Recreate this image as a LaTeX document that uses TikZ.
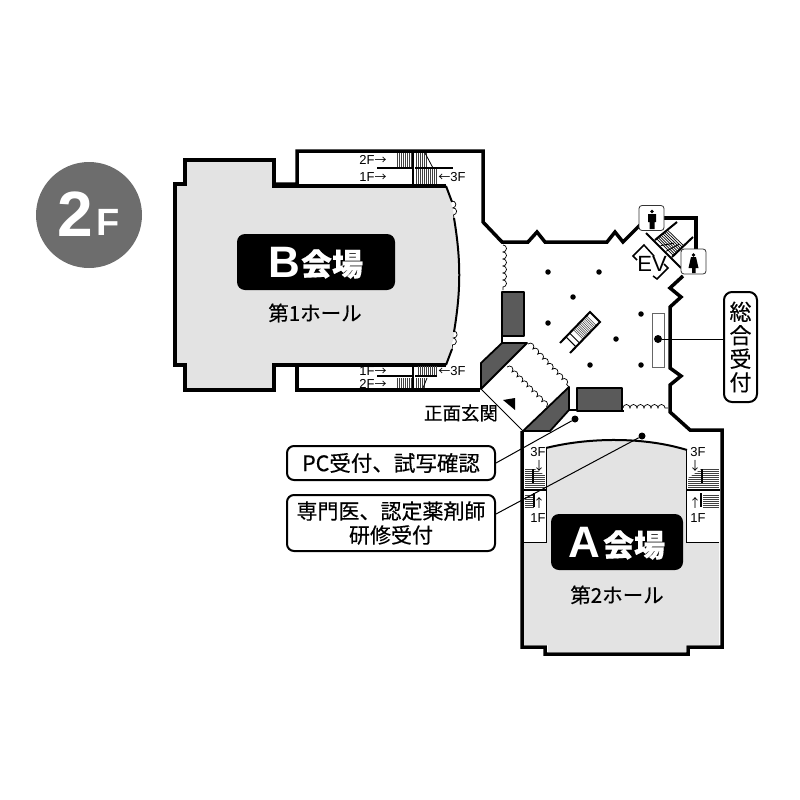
\documentclass[tikz,border=0pt]{standalone}
\usepackage{fontspec}
\setmainfont{Noto Sans CJK JP}[FakeBold=0.35]
\newfontfamily\arrowfont{Noto Sans CJK JP}
\newfontfamily\latinfont{Liberation Sans}
\usetikzlibrary{
  calc,
  decorations.pathmorphing
}
\definecolor{hallgray}{HTML}{E3E3E3}
\definecolor{darkroom}{HTML}{5A5A5A}
\definecolor{badgegray}{HTML}{6D6D6D}
\tikzset{
  wall/.style={line width=3.5pt,line join=miter},
  inner/.style={line width=2pt},
  hatch/.style={line width=0.5pt,black!75},
  darkbox/.style={draw,fill=darkroom,line width=1.8pt,line join=round},
  curtain/.style={line width=0.7pt,decorate,decoration={bumps,segment length=14pt,amplitude=3.5pt}},
  column/.style={circle,fill=black,inner sep=0pt,minimum size=5.5pt},
  bigdot/.style={circle,fill=black,inner sep=0pt,minimum size=8pt},
  callout/.style={draw,rounded corners=7pt,line width=2pt,fill=white,inner sep=0pt,align=center,font=\fontsize{21}{24}\selectfont},
  hallname/.style={fill=black,rounded corners=8pt,text=white,inner sep=0pt},
  stairtext/.style={inner sep=0pt,font=\latinfont\fontsize{13}{13}\selectfont},
  halltext/.style={inner sep=0pt,font=\fontsize{20.5}{22}\selectfont},
  signbox/.style={draw=black!80,rounded corners=3pt,fill=white,line width=0.8pt,minimum size=25pt,inner sep=0pt}
}
\newcommand{\arrowtxt}[1]{{\arrowfont\fontsize{12}{12}\selectfont #1}}
\begin{document}
\begin{tikzpicture}[x=1pt,y=-1pt]
  \useasboundingbox (0,0) rectangle (800,800);
  % floor badge
  \node[circle,fill=badgegray,minimum size=106pt,inner sep=0pt] (FloorBadge) at (89,215) {};
  \node[text=white,inner sep=0pt,font=\latinfont\bfseries\fontsize{64}{64}\selectfont] (FloorNum) at (75,214) {2};
  \node[text=white,inner sep=0pt,font=\latinfont\bfseries\fontsize{38}{38}\selectfont] (FloorF) at (108,222) {F};
  % hall B
  \fill[hallgray] (446,186) -- (274,186) -- (274,160) -- (185,160) -- (185,184) -- (175,184)
    -- (175,365) -- (185,365) -- (185,390) -- (274,390) -- (274,365) -- (446,365)
    -- (453,340) .. controls (461,290) and (461,260) .. (453,210) -- cycle;
  \draw[wall] (446,186) -- (274,186) -- (274,160) -- (185,160) -- (185,184) -- (175,184)
    -- (175,365) -- (185,365) -- (185,390) -- (274,390) -- (274,365) -- (446,365);
  \draw[inner] (446,186) -- (452,202);
  \draw[inner] (446,365) -- (452,349);
  \draw[inner] (454,218) .. controls (461,260) and (461,290) .. (454,332);
  \draw[curtain] (452,201) -- (454,219);
  \draw[curtain] (454,331) -- (452,350);
  % rooms beside hall B
  \draw[wall] (274,184) -- (297,184) -- (297,151) -- (483,151) -- (483,222) -- (502,242)
    -- (528,242) -- (537,232) -- (545,242) -- (607,242) -- (615,232) -- (623,242) -- (640,225);
  \draw[wall] (664,218) -- (696,218) -- (696,250);
  \draw[wall] (274,365) -- (297,365) -- (297,390) -- (480,390);
  \draw[wall] (683,276) -- (670,288) -- (681,297) -- (670,307) -- (670,368) -- (681,376)
    -- (670,385) -- (670,412) -- (690,430) -- (722,430) -- (722,647) -- (688,647) -- (688,654)
    -- (545,654) -- (545,647) -- (522,647) -- (522,431);
  % stairs of hall B
  \foreach \x in {397,399,...,411} \draw[hatch] (\x,153) -- (\x,168);
  \foreach \x in {416,418,...,436} \draw[hatch] (\x,169) -- (\x,184);
  \foreach \x in {416,418,...,426} \draw[hatch] (\x,153) -- (\x,168);
  \draw[line width=0.8pt] (425,153) -- (433,168);
  \draw[inner] (377,168) -- (412,168);
  \draw[inner] (415,168) -- (453,168);
  \draw[inner] (413,151) -- (413,185);
  \foreach \x in {397,399,...,411} \draw[hatch] (\x,378) -- (\x,388);
  \foreach \x in {418,420,...,436} \draw[hatch] (\x,366) -- (\x,376);
  \foreach \x in {416,418,...,424} \draw[hatch] (\x,378) -- (\x,388);
  \draw[line width=0.8pt] (427,378) -- (423,388);
  \draw[inner] (377,376) -- (412,376);
  \draw[inner] (415,376) -- (437,376);
  \draw[inner] (413,365) -- (413,390);
  \node[stairtext] (UpTwo) at (373,160) {2F\arrowtxt{→}};
  \node[stairtext] (UpOne) at (373,177) {1F\arrowtxt{→}};
  \node[stairtext] (UpThree) at (452,177) {\arrowtxt{←}3F};
  \node[stairtext] (LowOne) at (373,371) {1F\arrowtxt{→}};
  \node[stairtext] (LowTwo) at (373,384) {2F\arrowtxt{→}};
  \node[stairtext] (LowThree) at (452,371) {\arrowtxt{←}3F};
  % hall B names
  \node[hallname,minimum width=158pt,minimum height=56pt] (HallB) at (316,262) {};
  \node[inner sep=0pt,text=white,font=\latinfont\bfseries\fontsize{44}{44}\selectfont] (HallBLetter) at (284,262) {B};
  \node[inner sep=0pt,text=white,font=\bfseries\fontsize{31}{31}\selectfont] (HallBWord) at (332,264) {会場};
  \node[halltext] (HallBSub) at (315,313) {第1ホール};
  % hall A
  \fill[hallgray] (546,448) .. controls (590,437) and (645,437) .. (686,450) -- (686,542)
    -- (719,542) -- (719,645) -- (686,645) -- (686,652) -- (548,652) -- (548,645)
    -- (524,645) -- (524,542) -- (546,542) -- cycle;
  \draw[line width=0.8pt] (524,542) -- (546,542) -- (546,448);
  \draw[line width=0.8pt] (719,542) -- (686,542) -- (686,450);
  \draw[inner] (546,448) .. controls (590,437) and (645,437) .. (687,450);
  % stairs of hall A
  \foreach \y in {469,471,...,487} \draw[hatch] (525,\y) -- (545,\y);
  \foreach \y in {495,497,...,507} \draw[hatch] (525,\y) -- (534,\y);
  \foreach \y in {469,471,...,487} \draw[hatch] (688,\y) -- (719,\y);
  \foreach \y in {495,497,...,507} \draw[hatch] (703,\y) -- (719,\y);
  \fill[white] (535,469) -- (545,469) -- (545,475) -- cycle;
  \fill[white] (701,469) -- (688,469) -- (688,478) -- cycle;
  \draw[inner] (533,469) -- (533,483);
  \draw[inner] (534,493) -- (534,507);
  \draw[inner] (702,469) -- (702,483);
  \draw[inner] (701,493) -- (701,507);
  \draw[inner] (524,490) -- (546,490);
  \draw[inner] (686,490) -- (720,490);
  \node[stairtext] (LeftThree) at (538,452) {3F};
  \node[stairtext] (LeftDown) at (539,466) {\arrowtxt{↓}};
  \node[stairtext] (LeftUp) at (539,503) {\arrowtxt{↑}};
  \node[stairtext] (LeftOne) at (538,518) {1F};
  \node[stairtext] (RightThree) at (698,452) {3F};
  \node[stairtext] (RightDown) at (695,466) {\arrowtxt{↓}};
  \node[stairtext] (RightUp) at (695,503) {\arrowtxt{↑}};
  \node[stairtext] (RightOne) at (698,518) {1F};
  % hall A names
  \node[hallname,minimum width=132pt,minimum height=56pt] (HallA) at (617,542) {};
  \node[inner sep=0pt,text=white,font=\latinfont\bfseries\fontsize{44}{44}\selectfont] (HallALetter) at (584,542) {A};
  \node[inner sep=0pt,text=white,font=\bfseries\fontsize{31}{31}\selectfont] (HallAWord) at (634,545) {会場};
  \node[halltext] (HallASub) at (617,595) {第2ホール};
  % entrance
  \draw[darkbox] (502,292) rectangle (524,336);
  \draw[inner] (502,336) -- (502,343);
  \draw[darkbox] (502,343) -- (527,343) -- (481,389) -- (481,363) -- cycle;
  \draw[darkbox] (569,387) -- (569,410) -- (550,431) -- (523,431) -- cycle;
  \draw[darkbox] (577,388) rectangle (622,411);
  \draw[inner] (569,410) -- (577,410);
  \draw[line width=0.8pt] (481,389) -- (523,431);
  \draw[inner] (622,411) -- (624,411);
  \fill (503,400) -- (515,398) -- (515,410) -- cycle;
  \draw[curtain] (503,245) -- (503,290);
  \draw[curtain] (528,344) -- (569,387);
  \draw[curtain] (507,367) -- (547,407);
  \draw[curtain] (623,408) -- (668,408);
  \node[inner sep=0pt,font=\fontsize{18.5}{20}\selectfont] (MainDoor) at (461,413) {正面玄関};
  % columns
  \node[column] (ColA) at (548,272) {};
  \node[column] (ColB) at (599,272) {};
  \node[column] (ColC) at (573,297) {};
  \node[column] (ColD) at (548,323) {};
  \node[column] (ColE) at (641,314) {};
  \node[column] (ColF) at (616,339) {};
  \node[column] (ColG) at (590,365) {};
  \node[column] (ColH) at (641,365) {};
  % escalator in the lobby
  \coordinate (EscA) at (590,312);
  \coordinate (EscB) at (600,322);
  \coordinate (EscC) at (570,353);
  \coordinate (EscD) at (560,343);
  \foreach \t in {0.12,0.16,...,0.6}
    \draw[hatch] ($(EscA)!\t!(EscD)$) -- ($(EscB)!\t!(EscC)$);
  \foreach \t in {0.68,0.80} \draw[line width=1pt] ($(EscA)!\t!(EscD)$) -- ($(EscB)!\t!(EscC)$);
  \draw[inner] (EscD) -- (EscA) -- (EscB) -- (EscC);
  % elevator and stairs
  \draw[line width=1.5pt] (637,260) -- (633,256) -- (644,245) -- (654,256);
  \draw[line width=1.5pt] (653,276) -- (657,279) -- (668,268) -- (664,264);
  \node[inner sep=0pt,font=\latinfont\fontsize{22}{22}\selectfont] (Elevator) at (652,264) {EV};
  \coordinate (StairA) at (677,222);
  \coordinate (StairB) at (693,237);
  \coordinate (StairC) at (672,257);
  \coordinate (StairD) at (655,240);
  \foreach \t in {0.44,0.51,...,0.95}
    \draw[line width=0.7pt] ($(StairA)!\t!(StairD)$) -- ($(StairB)!\t!(StairC)$);
  \draw[line width=0.9pt] ($(StairA)!0.44!(StairD)!0.33!(StairB)!0.44!(StairC)$) -- ($(StairD)!0.33!(StairC)$);
  \draw[line width=0.9pt] ($(StairA)!0.44!(StairD)!0.66!(StairB)!0.44!(StairC)$) -- ($(StairD)!0.66!(StairC)$);
  \draw[inner] (StairD) -- (StairA);
  \draw[inner] (StairC) -- (StairB);
  \draw[inner] (646,233) -- (681,268);
  % toilets
  \node[signbox] (MenSign) at (651.5,218) {};
  \fill (652,211.5) circle (1.8pt);
  \fill (648,214) -- (656,214) -- (656,222) -- (654.5,222) -- (654.5,229) -- (649.5,229) -- (649.5,222) -- (648,222) -- cycle;
  \node[signbox] (WomenSign) at (693.5,261.5) {};
  \fill (693.5,255) circle (1.8pt);
  \fill (691,257) -- (696,257) -- (698.5,268) -- (695.5,268) -- (695.5,273) -- (692,273) -- (692,268) -- (688.5,268) -- cycle;
  % reception
  \draw[black!60,fill=white,line width=0.8pt] (652,313) rectangle (664,367);
  \node[bigdot] (DeskDot) at (658,339) {};
  \node[callout,minimum width=33pt,minimum height=110pt,rounded corners=8pt,font=\fontsize{22}{23.5}\selectfont] (DeskLabel) at (740.5,347) {総\\合\\受\\付};
  \draw[line width=1pt] (DeskDot) -- (DeskLabel.west |- DeskDot);
  % callouts
  \node[callout,minimum width=208pt,minimum height=34pt,font=\fontsize{21.5}{24}\selectfont] (PcLabel) at (391,463) {PC受付、試写確認};
  \node[callout,minimum width=208pt,minimum height=56pt] (DocLabel) at (391,523) {専門医、認定薬剤師\\研修受付};
  \node[bigdot,minimum size=7pt] (PcDot) at (575,419) {};
  \node[bigdot,minimum size=7pt] (DocDot) at (642,436) {};
  \draw[line width=1pt] (PcDot) -- (PcLabel.east);
  \draw[line width=1pt] (DocDot) -- ($(DocLabel.east)+(0,-9)$);
\end{tikzpicture}
\end{document}
